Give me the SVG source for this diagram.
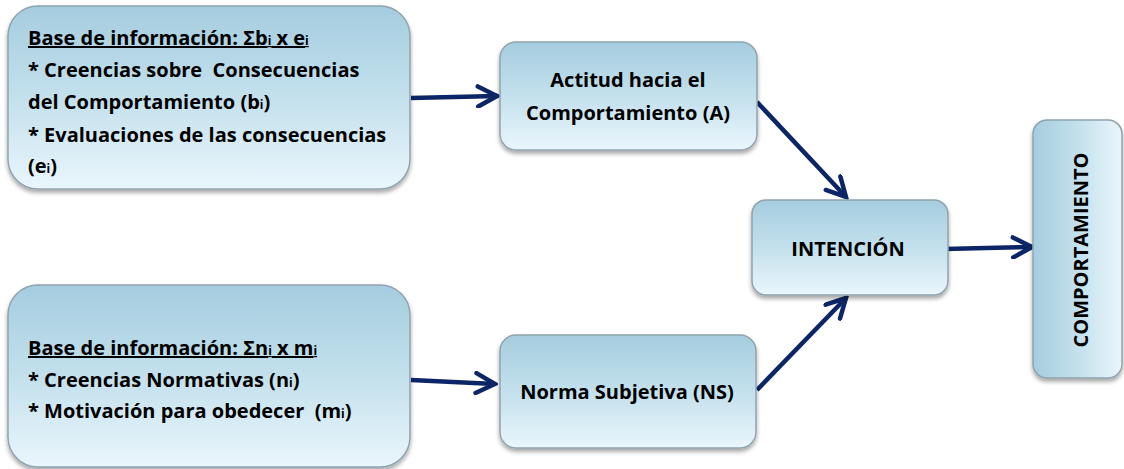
<svg xmlns="http://www.w3.org/2000/svg" width="1124" height="469" viewBox="0 0 1124 469">
<defs>
<linearGradient id="gv" x1="0" y1="0" x2="0" y2="1">
<stop offset="0" stop-color="#a5cddf"/>
<stop offset="0.5" stop-color="#c3e0ec"/>
<stop offset="1" stop-color="#eaf6fc"/>
</linearGradient>
<linearGradient id="gh" x1="0" y1="0" x2="1" y2="0">
<stop offset="0" stop-color="#a5cddf"/>
<stop offset="0.5" stop-color="#c3e0ec"/>
<stop offset="1" stop-color="#eaf6fc"/>
</linearGradient>
<filter id="sh" x="-10%" y="-10%" width="120%" height="130%">
<feDropShadow dx="0" dy="3" stdDeviation="2" flood-color="#000" flood-opacity="0.35"/>
</filter>
<marker id="ah" viewBox="0 0 26 24" refX="23" refY="12" markerWidth="26" markerHeight="24" markerUnits="userSpaceOnUse" orient="auto">
<path d="M4,2 L23,12 L4,22" fill="none" stroke="#0c2566" stroke-width="4.5" stroke-linecap="round" stroke-linejoin="miter"/>
</marker>
</defs>
<style>
.box{stroke:#8fa4ae;stroke-width:1.5;filter:url(#sh)}
.t{font-family:"Open Sans","Noto Sans",sans-serif;font-weight:bold;font-size:20px;fill:#000;white-space:pre}
.s{font-size:12px}
.c{stroke:#0c2566;stroke-width:4.5;fill:none;marker-end:url(#ah)}
</style>
<g id="connectors">
<path class="c" d="M411,98 L497,96"/>
<path class="c" d="M411,380 L495,384"/>
<path class="c" d="M757,102 L846,197"/>
<path class="c" d="M757,390 L846,298"/>
<path class="c" d="M944,249 L1032,247"/>
</g>
<g id="n1">
<rect class="box" x="8" y="6" width="402" height="183" rx="30" fill="url(#gv)"/>
<text class="t" x="28" y="45" text-decoration="underline">Base de información: Σb<tspan class="s">i</tspan> x e<tspan class="s">i</tspan></text>
<text class="t" x="28" y="77" xml:space="preserve">* Creencias sobre  Consecuencias</text>
<text class="t" x="28" y="109">del Comportamiento (b<tspan class="s">i</tspan>)</text>
<text class="t" x="28" y="142">* Evaluaciones de las consecuencias</text>
<text class="t" x="28" y="173">(e<tspan class="s">i</tspan>)</text>
</g>
<g id="n2">
<rect class="box" x="8" y="285" width="402" height="182" rx="30" fill="url(#gv)"/>
<text class="t" x="28" y="355" text-decoration="underline">Base de información: Σn<tspan class="s">i</tspan> x m<tspan class="s">i</tspan></text>
<text class="t" x="28" y="387">* Creencias Normativas (n<tspan class="s">i</tspan>)</text>
<text class="t" x="28" y="418" xml:space="preserve">* Motivación para obedecer  (m<tspan class="s">i</tspan>)</text>
</g>
<g id="n3">
<rect class="box" x="500" y="42" width="257" height="108" rx="16" fill="url(#gv)"/>
<text class="t" x="628" y="87" text-anchor="middle">Actitud hacia el</text>
<text class="t" x="628" y="120" text-anchor="middle">Comportamiento (A)</text>
</g>
<g id="n4">
<rect class="box" x="500" y="335" width="256" height="113" rx="16" fill="url(#gv)"/>
<text class="t" x="627" y="399" text-anchor="middle">Norma Subjetiva (NS)</text>
</g>
<g id="n5">
<rect class="box" x="752" y="200" width="196" height="95" rx="14" fill="url(#gv)"/>
<text class="t" x="848" y="256" text-anchor="middle">INTENCIÓN</text>
</g>
<g id="n6">
<rect class="box" x="1033" y="120" width="89" height="258" rx="14" fill="url(#gh)"/>
<text class="t" transform="translate(1088,250) rotate(-90)" text-anchor="middle">COMPORTAMIENTO</text>
</g>
</svg>
